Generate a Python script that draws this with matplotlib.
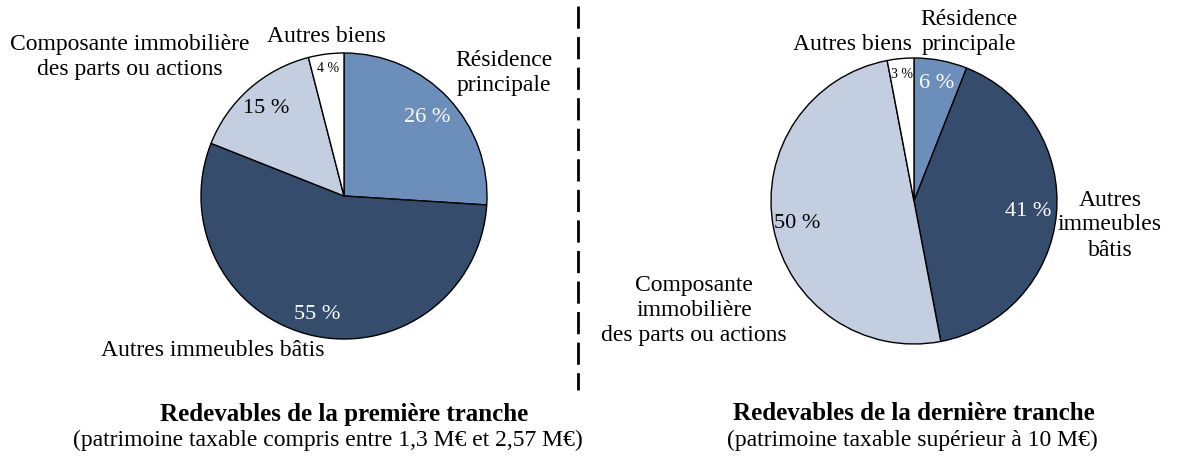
import numpy as np
import matplotlib.pyplot as plt

# catégories dans l'ordre horaire en partant du haut
categories = ["Résidence principale", "Autres immeubles bâtis",
              "Composante immobilière des parts ou actions", "Autres biens"]
first_bracket = [26, 55, 15, 4]
last_bracket = [6, 41, 50, 3]
colors = ['#6C8EBB', '#364C6D', '#C3CEE1', '#FFFFFF']
pct_colors = ['white', 'white', 'black', 'black']

plt.rcParams['font.family'] = ['Liberation Serif', 'DejaVu Serif']

W, H = 1181, 466
fig = plt.figure(figsize=(W / 100, H / 100), dpi=100)
ax = fig.add_axes([0, 0, 1, 1])
ax.set_xlim(0, W)
ax.set_ylim(0, H)
ax.set_aspect('equal')
ax.axis('off')


def draw_pie(values, cx, cy, r, pct_dist, pct_sizes):
    wedges, _ = ax.pie(values, colors=colors, startangle=90, counterclock=False,
                       center=(cx, H - cy), radius=r,
                       wedgeprops=dict(edgecolor='black', linewidth=1))
    ax.set_xlim(0, W)
    ax.set_ylim(0, H)
    for w, v, d, fs, c in zip(wedges, values, pct_dist, pct_sizes, pct_colors):
        a = np.deg2rad((w.theta1 + w.theta2) / 2)
        ax.text(cx + d * r * np.cos(a), H - cy + d * r * np.sin(a), f"{v} %",
                ha='center', va='center', fontsize=fs, color=c)


draw_pie(first_bracket, 344, 196, 143, [0.8, 0.85, 0.82, 0.9], [16, 16, 16, 10])
draw_pie(last_bracket, 914, 201, 143, [0.84, 0.8, 0.83, 0.89], [16, 16, 16, 10])

fs = 17
ls = 1.25
# étiquettes, graphique de gauche
ax.text(504, H - 73, "Résidence\nprincipale", ha='center', va='center', fontsize=fs, linespacing=ls)
ax.text(326, H - 36, "Autres biens", ha='center', va='center', fontsize=fs)
ax.text(130, H - 57, "Composante immobilière\ndes parts ou actions", ha='center', va='center',
        fontsize=fs, linespacing=ls)
ax.text(213, H - 351, "Autres immeubles bâtis", ha='center', va='center', fontsize=fs)

# étiquettes, graphique de droite
ax.text(969, H - 32, "Résidence\nprincipale", ha='center', va='center', fontsize=fs, linespacing=ls)
ax.text(852, H - 44, "Autres biens", ha='center', va='center', fontsize=fs)
ax.text(1110, H - 225, "Autres\nimmeubles\nbâtis", ha='center', va='center', fontsize=fs,
        linespacing=ls)
ax.text(694, H - 311, "Composante\nimmobilière\ndes parts ou actions", ha='center', va='center',
        fontsize=fs, linespacing=ls)

# titres
ax.text(344, H - 414, "Redevables de la première tranche", ha='center', va='center',
        fontsize=18, fontweight='bold')
ax.text(328, H - 440, "(patrimoine taxable compris entre 1,3 M€ et 2,57 M€)", ha='center',
        va='center', fontsize=fs)
ax.text(914, H - 414, "Redevables de la dernière tranche", ha='center', va='center',
        fontsize=18, fontweight='bold')
ax.text(912, H - 440, "(patrimoine taxable supérieur à 10 M€)", ha='center', va='center',
        fontsize=fs)

# séparateur
ax.plot([578, 578], [H - 6, H - 390], color='black', linewidth=2, linestyle=(0, (8, 3)))

fig.savefig('out.png', dpi=100)
